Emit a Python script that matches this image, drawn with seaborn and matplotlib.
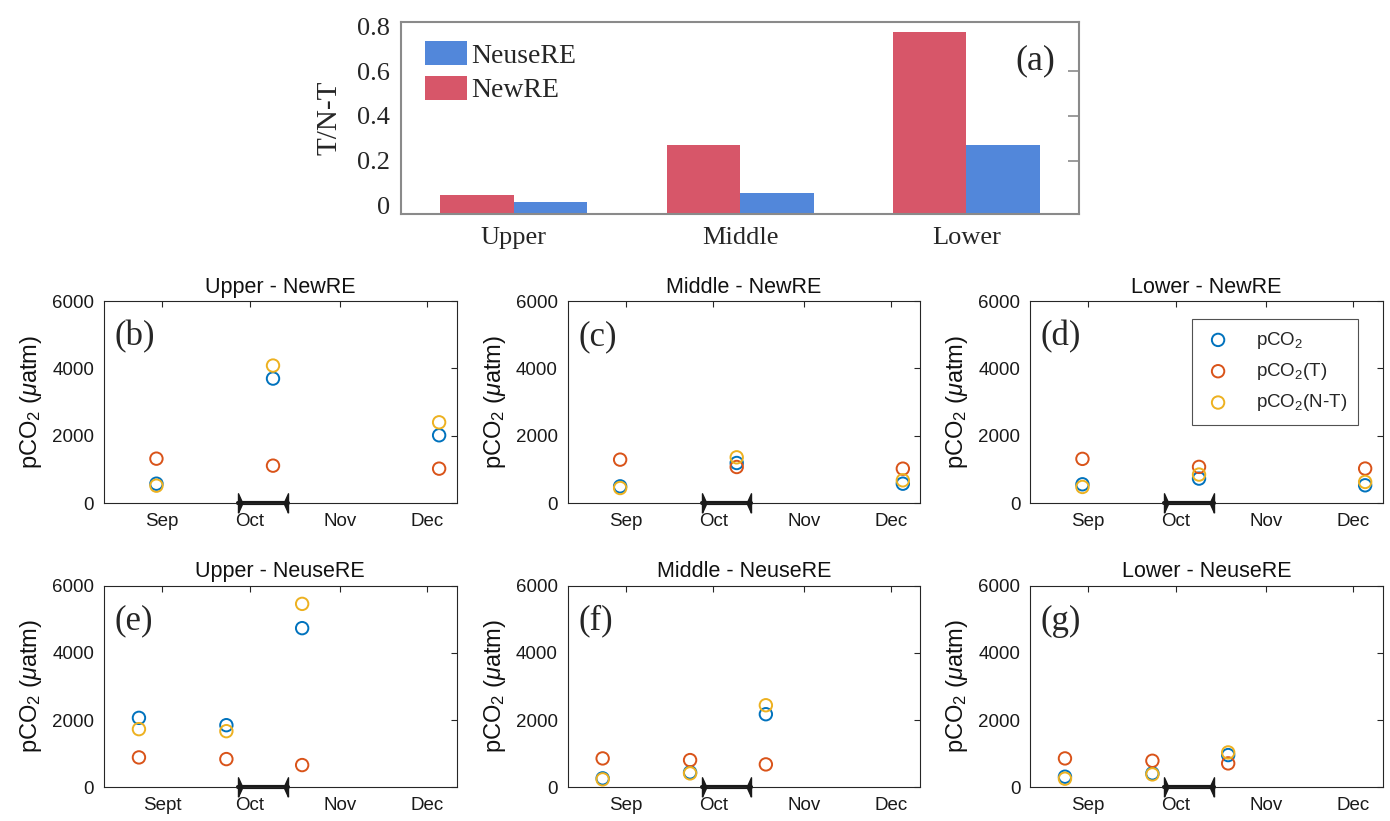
import numpy as np
import pandas as pd
import matplotlib
matplotlib.use("Agg")
import matplotlib.pyplot as plt
import matplotlib.dates as mdates
import seaborn as sns
from matplotlib.patches import Patch

# ---------------- data ----------------
sites = ["Upper", "Middle", "Lower"]
tnt_newre = [0.047, 0.27, 0.775]
tnt_neusere = [0.015, 0.056, 0.27]

dates_newre = ["2018-08-30", "2018-10-09", "2018-12-05"]
dates_neusere = ["2018-08-24", "2018-09-23", "2018-10-19"]

# NewRE panels (b, c, d)
up_new_pco2 = [575, 3700, 2014]
up_new_t = [1319, 1111, 1022]
up_new_nt = [516, 4087, 2400]
mid_new_pco2 = [496, 1190, 575]
mid_new_t = [1290, 1071, 1022]
mid_new_nt = [446, 1359, 675]
low_new_pco2 = [557, 726, 527]
low_new_t = [1313, 1075, 1025]
low_new_nt = [478, 846, 627]

# NeuseRE panels (e, f, g)
up_neu_pco2 = [2066, 1848, 4733]
up_neu_t = [890, 840, 662]
up_neu_nt = [1730, 1670, 5455]
mid_neu_pco2 = [267, 445, 2174]
mid_neu_t = [860, 810, 682]
mid_neu_nt = [237, 415, 2441]
low_neu_pco2 = [316, 415, 959]
low_neu_t = [860, 790, 712]
low_neu_nt = [257, 385, 1038]

storm_dates = ["2018-09-27", "2018-10-14"]
month_ticks = ["2018-09-01", "2018-10-01", "2018-11-01", "2018-12-01"]
month_labels = ["Sep", "Oct", "Nov", "Dec"]
month_labels_e = ["Sept", "Oct", "Nov", "Dec"]
x_range = ["2018-08-12", "2018-12-11"]

series_labels = ["pCO$_2$", "pCO$_2$(T)", "pCO$_2$(N-T)"]
series_colors = ["#0072BD", "#D95319", "#EDB120"]

# ---------------- style ----------------
sns.set_theme(style="white")
plt.rcParams["font.family"] = ["Liberation Sans", "DejaVu Sans"]
plt.rcParams["mathtext.fontset"] = "custom"
plt.rcParams["mathtext.rm"] = "Liberation Sans"
plt.rcParams["mathtext.it"] = "Liberation Sans:italic"
plt.rcParams["mathtext.bf"] = "Liberation Sans:bold"

fig = plt.figure(figsize=(13.9, 8.21), dpi=100)
fig.patch.set_facecolor("white")

# ---------------- panel (a) ----------------
serif = ["Liberation Serif", "DejaVu Serif"]
axa = fig.add_axes([0.2883, 0.739, 0.4882, 0.2339])
df_a = pd.DataFrame({
    "site": sites * 2,
    "series": ["NewRE"] * 3 + ["NeuseRE"] * 3,
    "value": tnt_newre + tnt_neusere,
})
sns.barplot(data=df_a, x="site", y="value", hue="series",
            hue_order=["NewRE", "NeuseRE"],
            palette={"NewRE": "#D75669", "NeuseRE": "#5287DA"},
            width=0.65, linewidth=0, saturation=1, ax=axa, legend=False)
ybot, ytop = -0.041, 0.82
axa.set_ylim(ybot, ytop)
axa.set_xlim(-0.5, 2.5)
for p in axa.patches:
    hh = p.get_height()
    p.set_y(ybot)
    p.set_height(hh - ybot)
axa.set_yticks([0, 0.2, 0.4, 0.6, 0.8])
axa.set_yticklabels(["0", "0.2", "0.4", "0.6", "0.8"], family=serif, fontsize=19)
axa.set_xticks([0, 1, 2])
axa.set_xticklabels(sites, family=serif, fontsize=19)
axa.tick_params(axis="y", left=False, right=True, labelleft=True, labelright=False,
                direction="in", length=8, width=1.2, color="#8a8a8a", pad=8)
axa.tick_params(axis="x", bottom=False, pad=3)
ticks = axa.yaxis.get_major_ticks()
ticks[0].tick2line.set_visible(False)
ticks[-1].tick2line.set_visible(False)
for s in axa.spines.values():
    s.set_visible(True)
    s.set_color("#8a8a8a")
    s.set_linewidth(1.5)
axa.set_xlabel("")
axa.set_ylabel("T/N-T", family=serif, fontsize=21, labelpad=10)
hnd = [Patch(facecolor="#5287DA", edgecolor="none"), Patch(facecolor="#D75669", edgecolor="none")]
axa.legend(hnd, ["NeuseRE", "NewRE"], loc="upper left", bbox_to_anchor=(0.036, 0.90),
           frameon=False, prop={"family": serif, "size": 20}, handlelength=1.5,
           handleheight=0.95, handletextpad=0.15, labelspacing=0.25, borderaxespad=0,
           borderpad=0)
axa.text(0.935, 0.80, "(a)", transform=axa.transAxes, ha="center", va="center",
         family=serif, fontsize=26)

# ---------------- panels (b)-(g) ----------------
lefts = [0.0748, 0.4084, 0.741]
bottoms = [0.3873, 0.041]
w, h = 0.2537, 0.2458

panels = [
    ("Upper - NewRE", "(b)", dates_newre, [up_new_pco2, up_new_t, up_new_nt], month_labels),
    ("Middle - NewRE", "(c)", dates_newre, [mid_new_pco2, mid_new_t, mid_new_nt], month_labels),
    ("Lower - NewRE", "(d)", dates_newre, [low_new_pco2, low_new_t, low_new_nt], month_labels),
    ("Upper - NeuseRE", "(e)", dates_neusere, [up_neu_pco2, up_neu_t, up_neu_nt], month_labels_e),
    ("Middle - NeuseRE", "(f)", dates_neusere, [mid_neu_pco2, mid_neu_t, mid_neu_nt], month_labels),
    ("Lower - NeuseRE", "(g)", dates_neusere, [low_neu_pco2, low_neu_t, low_neu_nt], month_labels),
]

left_tri = [(0, -1), (0, 1), (0.45, 0), (0, -1)]
right_tri = [(0, -1), (0, 1), (-0.45, 0), (0, -1)]
frame_col = "#262626"

for i, (title, tag, dates, vals, mlabels) in enumerate(panels):
    r, c = divmod(i, 3)
    ax = fig.add_axes([lefts[c], bottoms[r], w, h])
    dts = pd.to_datetime(dates)
    handles = []
    for v, col in zip(vals, series_colors):
        sns.scatterplot(x=dts, y=v, marker="o", s=80, facecolor="none",
                        edgecolor=col, linewidth=1.4, ax=ax, legend=False, zorder=3)
        handles.append(ax.collections[-1])
    sd = pd.to_datetime(storm_dates)
    sns.lineplot(x=sd, y=[0, 0], color="k", linewidth=3, ax=ax, legend=False)
    ax.lines[-1].set_clip_on(False)
    ax.plot([sd[0]], [0], marker=left_tri, ms=14, color="k", clip_on=False, zorder=4)
    ax.plot([sd[1]], [0], marker=right_tri, ms=14, color="k", clip_on=False, zorder=4)

    ax.set_xlim(pd.to_datetime(x_range[0]), pd.to_datetime(x_range[1]))
    ax.set_ylim(0, 6000)
    ax.set_yticks([0, 2000, 4000, 6000])
    ax.set_xticks(pd.to_datetime(month_ticks))
    ax.set_xticklabels(mlabels)
    ax.tick_params(direction="in", top=True, right=True, length=4, width=0.8,
                   color=frame_col, labelsize=13.5, pad=7, labelcolor="#1a1a1a")
    for s in ax.spines.values():
        s.set_visible(True)
        s.set_color(frame_col)
        s.set_linewidth(0.8)
    ax.set_title(title, fontsize=15.5, pad=6, color="#111111")
    ax.set_xlabel("")
    ax.set_ylabel("pCO$_2$ ($\\mu$atm)", fontsize=17, labelpad=6, color="#111111")
    ax.text(0.031, 0.905, tag, transform=ax.transAxes, ha="left", va="top",
            family=serif, fontsize=25)
    if tag == "(d)":
        leg = ax.legend(handles, series_labels, loc="upper right",
                        bbox_to_anchor=(0.93, 0.914), fontsize=13.5, frameon=True,
                        fancybox=False, edgecolor=frame_col, handletextpad=1.2,
                        labelspacing=0.55, borderpad=0.6, handlelength=1.6,
                        borderaxespad=0)
        leg.get_frame().set_linewidth(0.8)

fig.savefig("out.png", dpi=100, facecolor="white")
